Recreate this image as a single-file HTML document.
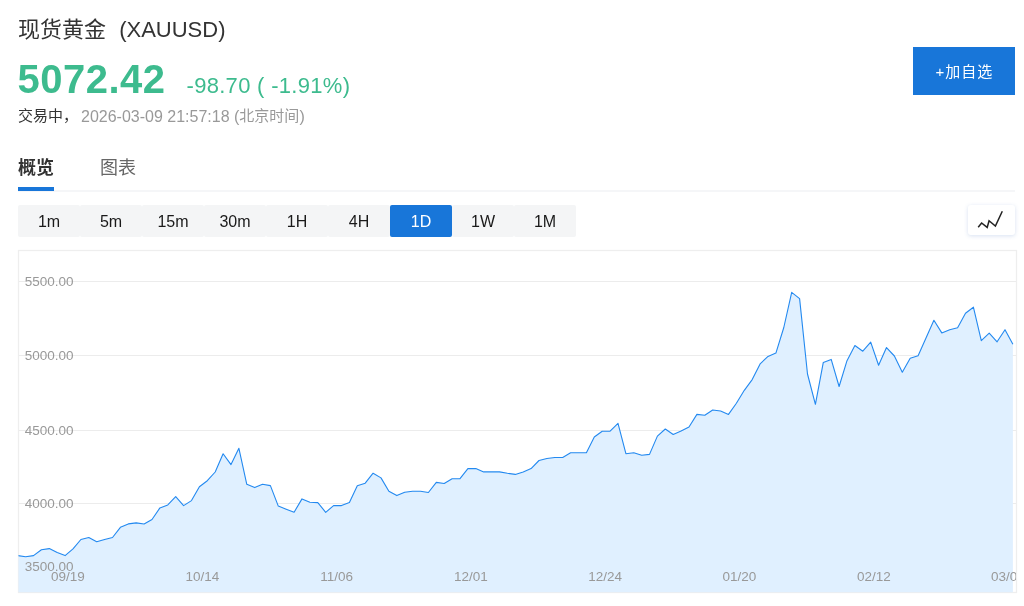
<!DOCTYPE html>
<html lang="zh-CN">
<head>
<meta charset="utf-8">
<title>现货黄金 (XAUUSD)</title>
<style>
html,body{margin:0;padding:0;background:#fff;}
body{width:1024px;height:606px;position:relative;overflow:hidden;font-family:"Liberation Sans","Noto Sans CJK SC",sans-serif;color:#333;}
.abs{position:absolute;white-space:nowrap;}
.title{left:18px;top:14px;font-size:22px;line-height:32px;color:#333;}
.price{left:17.5px;top:56px;font-size:40px;line-height:46px;font-weight:bold;color:#3dbb8e;letter-spacing:.5px;}
.chg{left:186.5px;top:70.5px;font-size:22px;line-height:30px;color:#3dbb8e;letter-spacing:.3px;}
.status{left:18px;top:105px;font-size:15px;line-height:22px;color:#333;}
.status .g{color:#999;margin-left:3px;}
.status .n{font-size:16px;position:relative;top:1px;}
.fav{left:913px;top:47px;width:102px;height:48px;background:#1876d9;color:#fff;font-size:15px;line-height:49px;text-align:center;letter-spacing:1px;text-indent:1px;}
.tab1{left:18px;top:155px;font-size:18px;line-height:26px;font-weight:bold;color:#333;}
.tab2{left:100px;top:155px;font-size:18px;line-height:26px;color:#666;}
.tabline{left:18px;top:190px;width:997px;height:2px;background:#f5f6f8;}
.tabbar{left:18px;top:187px;width:36px;height:4px;background:#1876d9;}
.btns{left:18px;top:205px;height:32px;display:flex;}
.btns div{width:62px;height:32px;line-height:34px;text-align:center;font-size:16px;color:#1a1a1a;background:#f4f5f6;border-radius:2px;}
.btns div.on{background:#1876d9;color:#fff;}
.ico{left:968px;top:205px;width:47px;height:30px;background:#fff;border-radius:3px;box-shadow:0 1px 4px rgba(90,130,200,.24);}
.chart{left:0;top:0;}
svg text{font-family:"Liberation Sans",sans-serif;font-size:13.5px;fill:#999;}
</style>
</head>
<body>
<div class="abs title">现货黄金<span style="margin-left:7px"> (XAUUSD)</span></div>
<div class="abs price">5072.42</div>
<div class="abs chg">-98.70 ( -1.91%)</div>
<div class="abs status">交易中，<span class="g"><span class="n">2026-03-09 21:57:18 (</span>北京时间<span class="n">)</span></span></div>
<div class="abs fav">+加自选</div>
<div class="abs tab1">概览</div>
<div class="abs tab2">图表</div>
<div class="abs tabline"></div>
<div class="abs tabbar"></div>
<div class="abs btns"><div>1m</div><div>5m</div><div>15m</div><div>30m</div><div>1H</div><div>4H</div><div class="on">1D</div><div>1W</div><div>1M</div></div>
<div class="abs ico"><svg width="47" height="30" viewBox="0 0 47 30"><polyline points="10.2,22.2 13.6,18.0 19.2,22.4 21.05,15.7 27.4,21.0 34.3,6.3" fill="none" stroke="#222" stroke-width="1.5" stroke-linejoin="miter"/></svg></div>
<svg class="abs chart" width="1024" height="606" viewBox="0 0 1024 606">
<defs><clipPath id="cp"><rect x="18.5" y="251" width="997.5" height="341.5"/></clipPath></defs>
<rect x="18.5" y="250.5" width="998" height="342" fill="#fff" stroke="#eee" stroke-width="1.3"/>
<g stroke="#ececec" stroke-width="1">
<line x1="19" y1="281.5" x2="1016" y2="281.5"/>
<line x1="19" y1="355.5" x2="1016" y2="355.5"/>
<line x1="19" y1="430.5" x2="1016" y2="430.5"/>
<line x1="19" y1="503.5" x2="1016" y2="503.5"/>
</g>
<g clip-path="url(#cp)">
<polygon points="17.7,592.5 17.7,555.6 25.6,556.7 33.5,555.6 41.4,549.8 49.3,548.6 57.2,552.6 65.1,555.6 73.0,548.9 80.9,539.5 88.8,537.5 96.7,541.8 104.6,539.5 112.5,537.5 120.4,527.3 128.3,523.9 136.2,522.9 144.1,524.0 152.0,519.5 159.9,507.9 167.8,504.9 175.7,496.7 183.6,505.6 191.5,500.6 199.4,486.8 207.3,480.7 215.2,472.0 223.1,453.8 231.0,464.6 238.9,448.3 246.8,484.3 254.7,487.6 262.5,484.3 270.4,485.6 278.3,506.1 286.2,509.2 294.1,512.2 302.0,498.9 309.9,502.3 317.8,502.6 325.7,512.3 333.6,505.6 341.5,505.6 349.4,502.6 357.3,485.7 365.2,483.2 373.1,473.2 381.0,477.9 388.9,491.2 396.8,495.6 404.7,492.3 412.6,491.2 420.5,491.2 428.4,492.5 436.3,482.4 444.2,483.5 452.1,478.7 460.0,478.7 467.9,468.6 475.8,468.6 483.7,471.9 491.6,471.9 499.5,471.9 507.4,473.3 515.3,474.4 523.2,471.9 531.1,468.6 539.0,460.5 546.9,458.5 554.8,457.5 562.7,457.5 570.6,452.8 578.5,452.8 586.4,452.8 594.3,437.0 602.2,431.2 610.1,431.2 618.0,423.3 625.9,453.7 633.8,452.8 641.7,455.3 649.5,454.4 657.4,436.1 665.3,429.0 673.2,434.5 681.1,431.1 689.0,427.0 696.9,414.4 704.8,415.3 712.7,410.0 720.6,411.0 728.5,414.4 736.4,403.2 744.3,390.3 752.2,379.6 760.1,363.9 768.0,356.4 775.9,353.1 783.8,327.5 791.7,292.4 799.6,298.6 807.5,374.0 815.4,404.3 823.3,362.4 831.2,359.4 839.1,386.5 847.0,360.7 854.9,345.5 862.8,351.2 870.7,342.1 878.6,365.2 886.5,347.6 894.4,356.0 902.3,372.2 910.2,358.2 918.1,355.7 926.0,338.0 933.9,320.2 941.8,332.9 949.7,329.7 957.6,327.7 965.5,313.2 973.4,307.2 981.3,340.6 989.2,333.2 997.1,341.8 1005.0,329.7 1012.9,344.2 1012.9,592.5" fill="#e0f0ff"/>
<polyline points="17.7,555.6 25.6,556.7 33.5,555.6 41.4,549.8 49.3,548.6 57.2,552.6 65.1,555.6 73.0,548.9 80.9,539.5 88.8,537.5 96.7,541.8 104.6,539.5 112.5,537.5 120.4,527.3 128.3,523.9 136.2,522.9 144.1,524.0 152.0,519.5 159.9,507.9 167.8,504.9 175.7,496.7 183.6,505.6 191.5,500.6 199.4,486.8 207.3,480.7 215.2,472.0 223.1,453.8 231.0,464.6 238.9,448.3 246.8,484.3 254.7,487.6 262.5,484.3 270.4,485.6 278.3,506.1 286.2,509.2 294.1,512.2 302.0,498.9 309.9,502.3 317.8,502.6 325.7,512.3 333.6,505.6 341.5,505.6 349.4,502.6 357.3,485.7 365.2,483.2 373.1,473.2 381.0,477.9 388.9,491.2 396.8,495.6 404.7,492.3 412.6,491.2 420.5,491.2 428.4,492.5 436.3,482.4 444.2,483.5 452.1,478.7 460.0,478.7 467.9,468.6 475.8,468.6 483.7,471.9 491.6,471.9 499.5,471.9 507.4,473.3 515.3,474.4 523.2,471.9 531.1,468.6 539.0,460.5 546.9,458.5 554.8,457.5 562.7,457.5 570.6,452.8 578.5,452.8 586.4,452.8 594.3,437.0 602.2,431.2 610.1,431.2 618.0,423.3 625.9,453.7 633.8,452.8 641.7,455.3 649.5,454.4 657.4,436.1 665.3,429.0 673.2,434.5 681.1,431.1 689.0,427.0 696.9,414.4 704.8,415.3 712.7,410.0 720.6,411.0 728.5,414.4 736.4,403.2 744.3,390.3 752.2,379.6 760.1,363.9 768.0,356.4 775.9,353.1 783.8,327.5 791.7,292.4 799.6,298.6 807.5,374.0 815.4,404.3 823.3,362.4 831.2,359.4 839.1,386.5 847.0,360.7 854.9,345.5 862.8,351.2 870.7,342.1 878.6,365.2 886.5,347.6 894.4,356.0 902.3,372.2 910.2,358.2 918.1,355.7 926.0,338.0 933.9,320.2 941.8,332.9 949.7,329.7 957.6,327.7 965.5,313.2 973.4,307.2 981.3,340.6 989.2,333.2 997.1,341.8 1005.0,329.7 1012.9,344.2" fill="none" stroke="#2389f0" stroke-width="1.1" stroke-linejoin="round"/>
<g>
<text x="24.8" y="285.5">5500.00</text>
<text x="24.8" y="359.6">5000.00</text>
<text x="24.8" y="434.6">4500.00</text>
<text x="24.8" y="507.6">4000.00</text>
<text x="24.8" y="570.6">3500.00</text>
</g>
<g text-anchor="middle">
<text x="68" y="580.6">09/19</text>
<text x="202.3" y="580.6">10/14</text>
<text x="336.6" y="580.6">11/06</text>
<text x="470.9" y="580.6">12/01</text>
<text x="605.2" y="580.6">12/24</text>
<text x="739.5" y="580.6">01/20</text>
<text x="873.8" y="580.6">02/12</text>
<text x="1008" y="580.6">03/06</text>
</g>
</g>
</svg>
</body>
</html>
